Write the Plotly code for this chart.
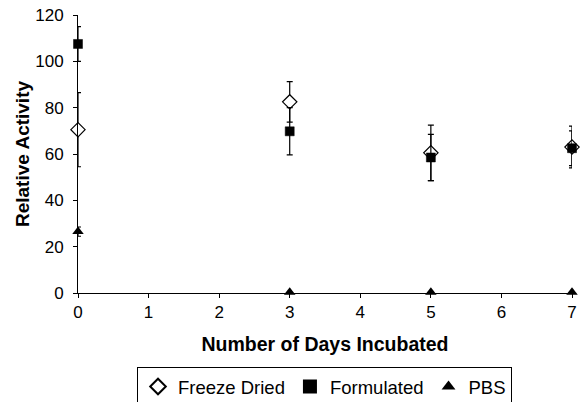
import plotly.graph_objects as go

days = [0, 3, 5, 7]
freeze_dried = [70.5, 82.5, 60.5, 63]
freeze_dried_err = [16, 8.7, 12, 9]
formulated = [107.5, 69.8, 58.5, 62.5]
formulated_err = [7.5, 10.2, 10, 7.5]
pbs = [26.5, 0.3, 0.3, 0.3]
pbs_err = [2, 0, 0, 0]

font = "Liberation Sans, Arial, sans-serif"

fig = go.Figure()
fig.add_trace(go.Scatter(
    x=days, y=freeze_dried, mode="markers", name="Freeze Dried",
    marker=dict(symbol="diamond", size=11, color="white", line=dict(color="black", width=1.2)),
    error_y=dict(type="data", array=freeze_dried_err, color="black", thickness=1.2, width=3),
    cliponaxis=False))
fig.add_trace(go.Scatter(
    x=days, y=formulated, mode="markers", name="Formulated",
    marker=dict(symbol="square", size=9, color="black", line=dict(color="black", width=0.5)),
    error_y=dict(type="data", array=formulated_err, color="black", thickness=1.2, width=3),
    cliponaxis=False))
fig.add_trace(go.Scatter(
    x=days, y=pbs, mode="markers", name="PBS",
    marker=dict(symbol="triangle-up", size=10, color="black"),
    error_y=dict(type="data", array=pbs_err, color="black", thickness=1.2, width=3),
    cliponaxis=False))

fig.update_layout(
    width=584, height=402,
    margin=dict(l=78, r=12, t=15, b=109),
    paper_bgcolor="white", plot_bgcolor="white",
    font=dict(family=font, size=17, color="black"),
    showlegend=True,
    legend=dict(orientation="h", x=0.499, xanchor="center",
                yref="container", y=1 - 367 / 402, yanchor="top",
                bordercolor="black", borderwidth=1, bgcolor="white",
                font=dict(size=18.5), itemsizing="constant", tracegroupgap=0,
                itemwidth=30),
    xaxis=dict(range=[0, 7], tickmode="array", tickvals=list(range(8)),
               showgrid=False, zeroline=False, showline=True, linecolor="black", linewidth=1,
               ticks="outside", ticklen=4, tickcolor="black", automargin=False,
               title=dict(text="<b>Number of Days Incubated</b>", font=dict(size=19.5), standoff=15)),
    yaxis=dict(range=[0, 120], tickmode="array", tickvals=[0, 20, 40, 60, 80, 100, 120],
               showgrid=False, zeroline=False, showline=True, linecolor="black", linewidth=1,
               ticks="outside", ticklen=4, tickcolor="black", automargin=False,
               ticklabelstandoff=6,
               title=dict(text="<b>Relative Activity</b>", font=dict(size=19), standoff=0)),
)

fig.write_html("out.html", config={"displayModeBar": False},
               post_script="document.body.style.margin='0';document.body.style.overflow='hidden';")
